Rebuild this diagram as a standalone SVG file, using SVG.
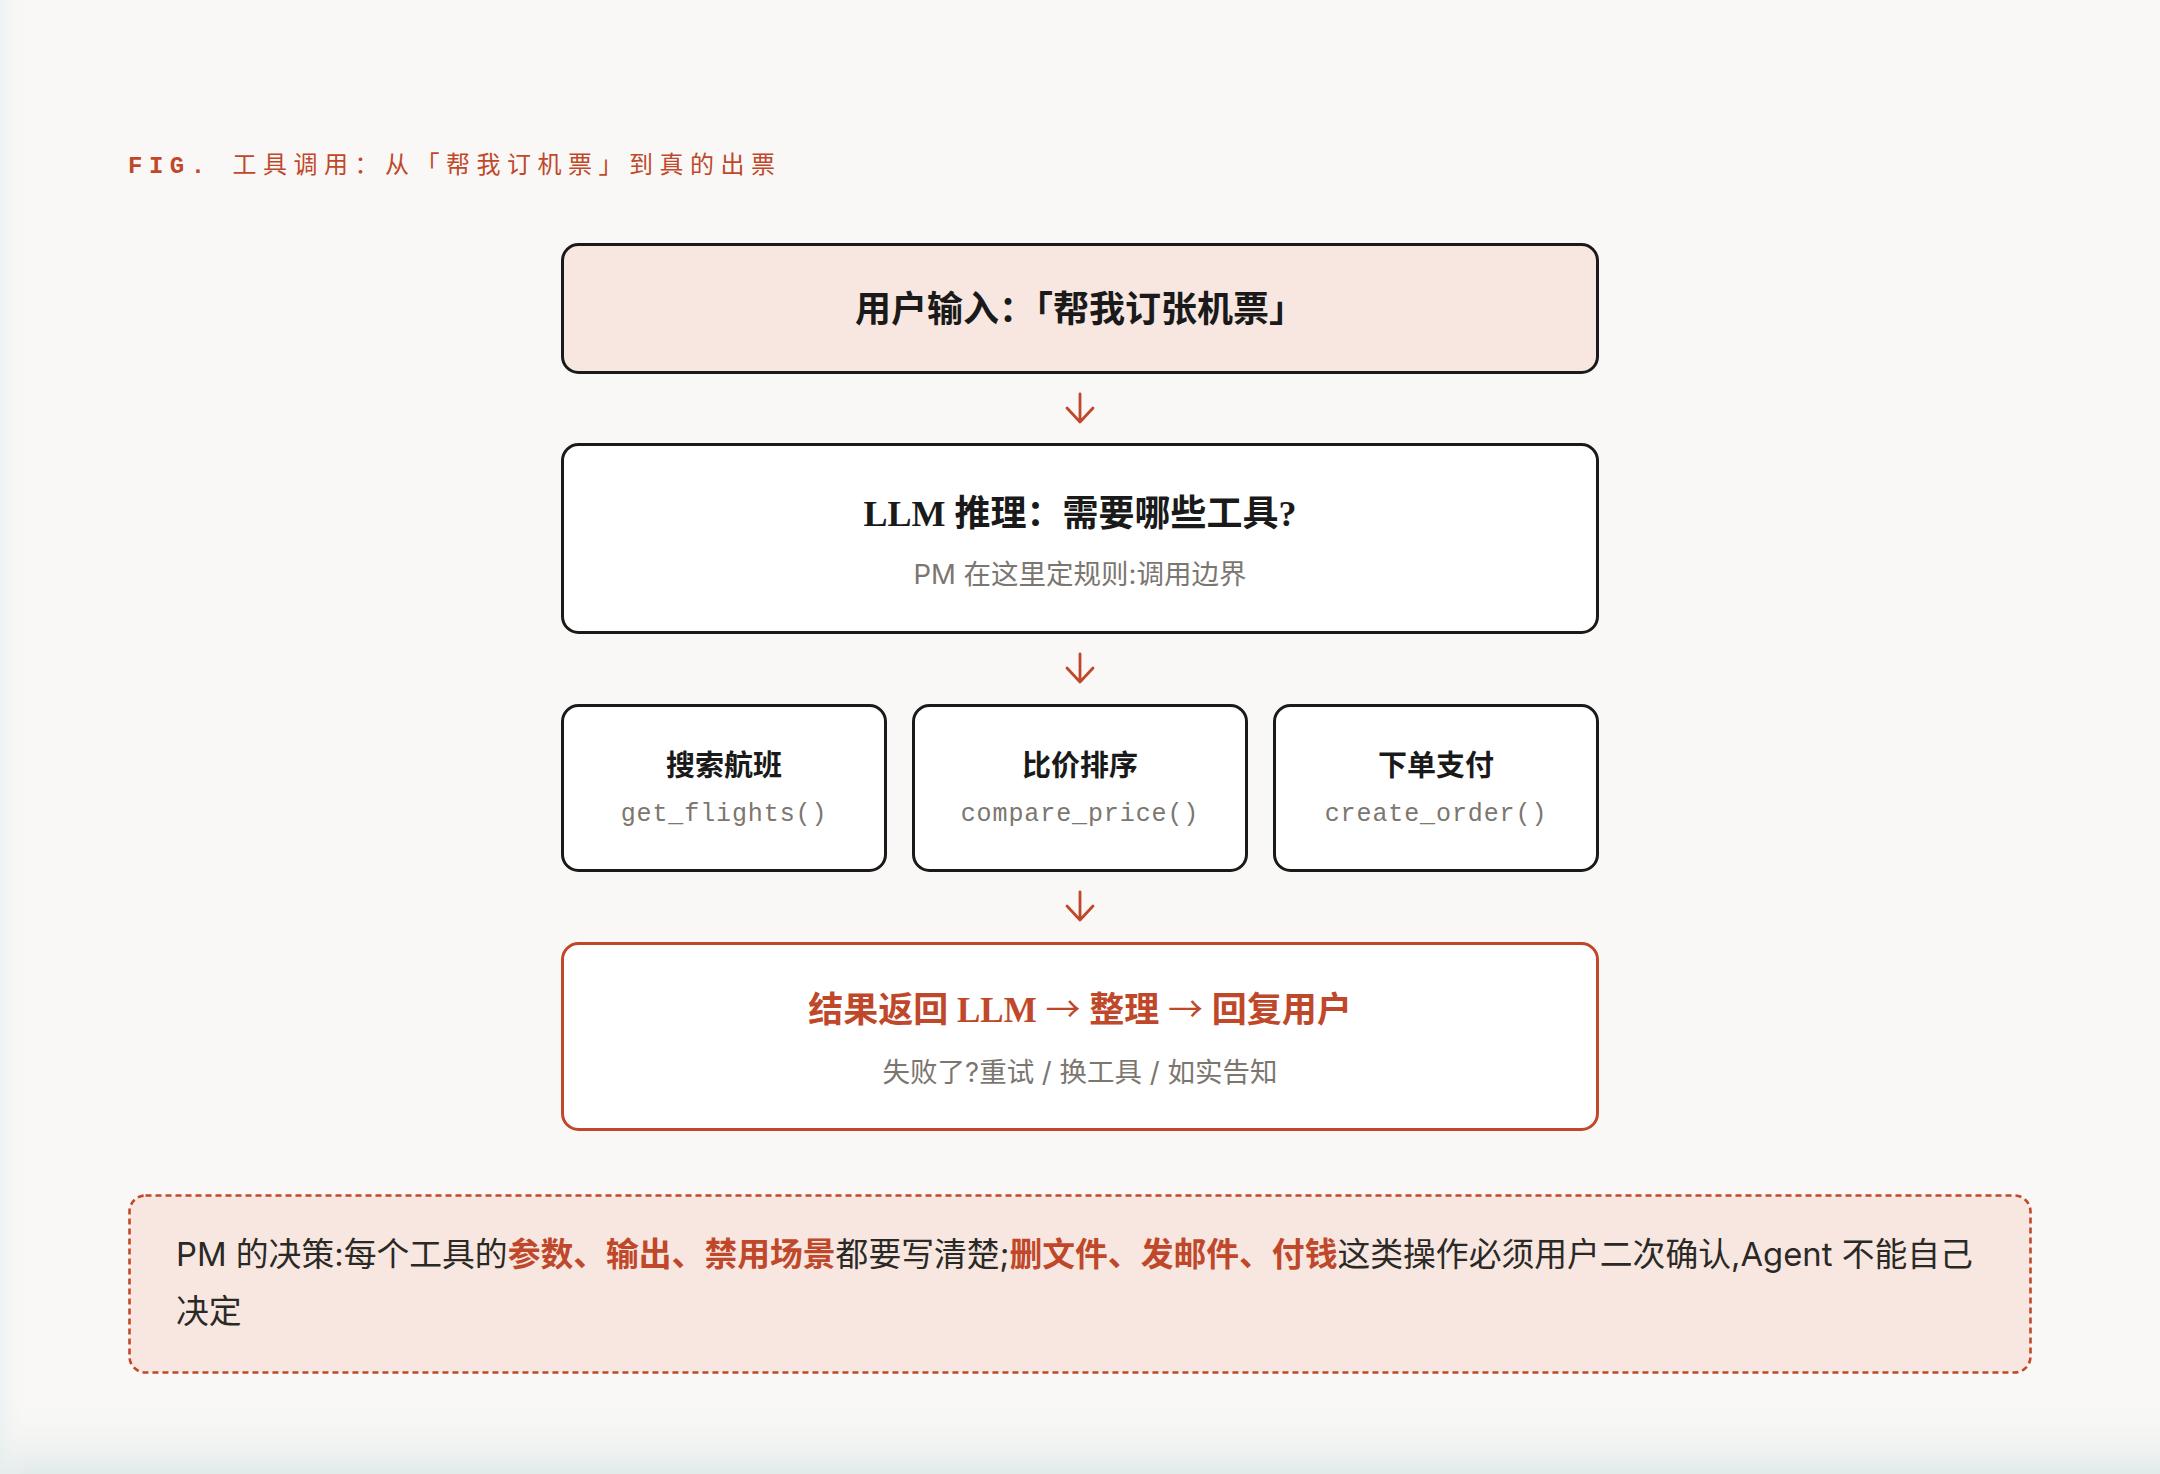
<svg xmlns="http://www.w3.org/2000/svg" width="2160" height="1474" viewBox="0 0 2160 1474">
<defs>
<linearGradient id="bottomFade" x1="0" y1="0" x2="0" y2="1">
<stop offset="0" stop-color="#f9f8f6" stop-opacity="0"/>
<stop offset="1" stop-color="#e2eaea"/>
</linearGradient>
<linearGradient id="leftFade" x1="0" y1="0" x2="1" y2="0">
<stop offset="0" stop-color="#e6eeef"/>
<stop offset="1" stop-color="#f9f8f6" stop-opacity="0"/>
</linearGradient>
<style>
.box{stroke:#1a1a1a;stroke-width:3;fill:#ffffff}
.pink{fill:#f7e7e0}
.accent{stroke:#c0482a}
.title{font-family:"Liberation Serif","Noto Sans CJK SC",serif;font-weight:700;font-size:36px;fill:#1a1a1a;text-anchor:middle}
.ttl{font-family:"Liberation Serif","Noto Sans CJK SC",serif;font-weight:700;font-size:29px;fill:#1a1a1a;text-anchor:middle}
.sub{font-family:"Inter","Noto Sans CJK SC",sans-serif;font-size:27.5px;fill:#7c7670;text-anchor:middle}
.code{font-family:"Liberation Mono","Noto Sans CJK SC",monospace;font-size:25px;letter-spacing:0.9px;fill:#7c7670;text-anchor:middle}
.arrow{stroke:#c0482a;stroke-width:2.8;fill:none;stroke-linecap:round;stroke-linejoin:round}
.note{font-family:"Inter","Noto Sans CJK SC",sans-serif;font-size:32.8px;fill:#2b2926}
.hl{fill:#c0482a;font-weight:700}
.arr{font-family:"Noto Sans CJK SC",sans-serif;font-weight:400}
</style>
</defs>
<rect x="0" y="0" width="2160" height="1474" fill="#f9f8f6"/>
<rect x="0" y="1395" width="2160" height="79" fill="url(#bottomFade)"/>
<rect x="0" y="0" width="28" height="1474" fill="url(#leftFade)" opacity="0.6"/>

<g id="fig-title">
<text x="128" y="173" font-family="'Liberation Mono','Noto Sans CJK SC',monospace" font-size="24" letter-spacing="6.5" fill="#c0482a"><tspan font-weight="700">FIG.</tspan> 工具调用：从「帮我订机票」到真的出票</text>
</g>

<g id="connectors">
<path class="arrow" d="M1080 394 V422 M1067 408 L1080 422 L1093 408"/>
<path class="arrow" d="M1080 654 V682 M1067 668 L1080 682 L1093 668"/>
<path class="arrow" d="M1080 892 V920 M1067 906 L1080 920 L1093 906"/>
</g>

<g id="node-input">
<rect class="box pink" x="562.5" y="244.5" width="1035" height="128" rx="16"/>
<text class="title" x="1080" y="322">用户输入：「帮我订张机票」</text>
</g>

<g id="node-llm">
<rect class="box" x="562.5" y="444.5" width="1035" height="188" rx="16"/>
<text class="title" x="1080" y="526">LLM 推理：需要哪些工具?</text>
<text class="sub" x="1080" y="584">PM 在这里定规则:调用边界</text>
</g>

<g id="node-search">
<rect class="box" x="562.5" y="705.5" width="323" height="165" rx="16"/>
<text class="ttl" x="724" y="776">搜索航班</text>
<text class="code" x="724" y="821">get_flights()</text>
</g>

<g id="node-compare">
<rect class="box" x="913.5" y="705.5" width="333" height="165" rx="16"/>
<text class="ttl" x="1080" y="776">比价排序</text>
<text class="code" x="1080" y="821">compare_price()</text>
</g>

<g id="node-order">
<rect class="box" x="1274.5" y="705.5" width="323" height="165" rx="16"/>
<text class="ttl" x="1436" y="776">下单支付</text>
<text class="code" x="1436" y="821">create_order()</text>
</g>

<g id="node-result">
<rect class="box accent" x="562.5" y="943.5" width="1035" height="186" rx="16"/>
<text class="title" x="1080" y="1022" style="fill:#c0482a;font-size:35px">结果返回 LLM <tspan class="arr">→</tspan> 整理 <tspan class="arr">→</tspan> 回复用户</text>
<text class="sub" x="1080" y="1082">失败了?重试 / 换工具 / 如实告知</text>
</g>

<g id="note">
<rect x="129.5" y="1195.5" width="1901" height="177" rx="16" fill="#f7e7e0" stroke="#c0482a" stroke-width="2.6" stroke-dasharray="6 4"/>
<text class="note" x="176" y="1266">PM 的决策:每个工具的<tspan class="hl">参数、输出、禁用场景</tspan>都要写清楚;<tspan class="hl">删文件、发邮件、付钱</tspan>这类操作必须用户二次确认,Agent 不能自己</text>
<text class="note" x="176" y="1323">决定</text>
</g>
</svg>
